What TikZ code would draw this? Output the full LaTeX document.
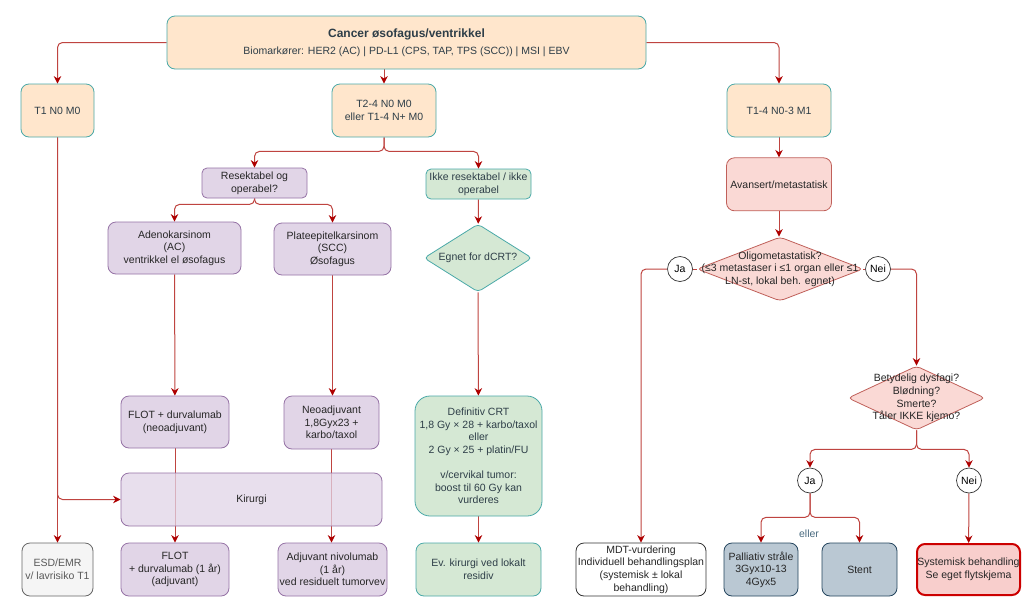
\documentclass[tikz,border=0pt]{standalone}
\usepackage{fontspec}
\setmainfont{Liberation Sans}
\usetikzlibrary{shapes,arrows.meta,positioning,backgrounds}

\definecolor{stagefill}{HTML}{FFE6CC}
\definecolor{tealline}{HTML}{4AA9A8}
\definecolor{purpfill}{HTML}{E1D5E7}
\definecolor{purpline}{HTML}{9673A6}
\definecolor{greenfill}{HTML}{D5E8D4}
\definecolor{redfill}{HTML}{FAD9D5}
\definecolor{redline}{HTML}{C0605A}
\definecolor{sysfill}{HTML}{F8CECC}
\definecolor{sysline}{HTML}{CC0000}
\definecolor{greyfill}{HTML}{F5F5F5}
\definecolor{greyline}{HTML}{666666}
\definecolor{bluefill}{HTML}{BAC8D3}
\definecolor{blueline}{HTML}{23445D}
\definecolor{arrowred}{HTML}{BF4440}
\definecolor{tipred}{HTML}{AE0000}
\definecolor{slatetext}{HTML}{2E3E48}
\definecolor{ellertext}{HTML}{4A6B80}

\begin{document}
\begin{tikzpicture}[
        x=1pt, y=-1pt,
        txt/.style={font=\fontsize{10.5}{12.6}\selectfont, align=center},
        box/.style={txt, draw, rectangle, rounded corners=8pt, line width=0.8pt, inner sep=2pt, minimum height=53pt, text=black!85},
        stage/.style={box, fill=stagefill, draw=tealline, text=slatetext},
        purp/.style={box, fill=purpfill, draw=purpline},
        grn/.style={box, fill=greenfill, draw=tealline, text=slatetext},
        rbox/.style={box, fill=redfill, draw=redline},
        palbox/.style={box, fill=bluefill, draw=blueline},
        dia/.style={draw, diamond, rounded corners=4pt, line width=0.8pt, inner sep=0pt},
        answer/.style={txt, draw=black!80, circle, fill=white, line width=0.7pt, minimum size=25pt, inner sep=0pt},
        arrow/.style={-{Stealth[length=7.5pt,width=7.5pt,color=tipred]}, draw=arrowred, line width=1pt, rounded corners=5pt},
        link/.style={draw=arrowred, line width=1pt}
    ]
        \useasboundingbox (0,0) rectangle (1023,611);

        % Diagnose
        \node[stage, minimum width=479pt] (top) at (406.5,42.5) {{\fontsize{12}{14}\selectfont\bfseries Cancer øsofagus/ventrikkel}\\[4pt]Biomarkører: HER2 (AC) | PD-L1 (CPS, TAP, TPS (SCC)) | MSI | EBV};

        % Stadier
        \node[stage, minimum width=73pt] (t1) at (57.5,110.5) {T1 N0 M0};
        \node[stage, minimum width=104pt] (t2) at (384,110.5) {T2-4 N0 M0\\eller T1-4 N+ M0};
        \node[stage, minimum width=104pt] (m1) at (779,110.5) {T1-4 N0-3 M1};

        % Lokalisert sykdom
        \node[purp, minimum width=105pt, minimum height=30pt, rounded corners=5pt] (res) at (254.5,183) {Resektabel og\\operabel?};
        \node[grn, minimum width=105pt, minimum height=30pt, rounded corners=5pt] (ikke) at (478.5,184) {Ikke resektabel / ikke\\operabel};
        \node[purp, minimum width=133pt, minimum height=52pt] (adeno) at (174.5,248) {Adenokarsinom\\(AC)\\ventrikkel el øsofagus};
        \node[purp, minimum width=117pt, minimum height=52pt] (plate) at (332.5,249) {Plateepitelkarsinom\\(SCC)\\Øsofagus};
        \node[dia, fill=greenfill, draw=tealline, minimum width=108pt, minimum height=68pt] (egnet) at (478,258) {};
        \node[txt, text=slatetext] (egnettxt) at (egnet) {Egnet for dCRT?};

        \node[purp, minimum width=108pt, minimum height=52pt] (flotneo) at (175,422) {FLOT + durvalumab\\(neoadjuvant)};
        \node[purp, minimum width=95pt] (neoadj) at (331.5,422.5) {Neoadjuvant\\1,8Gyx23 +\\karbo/taxol};
        \node[grn, minimum width=127pt, minimum height=120pt, rounded corners=15pt] (dcrt) at (478.5,456) {Definitiv CRT\\1,8 Gy × 28 + karbo/taxol\\eller\\2 Gy × 25 + platin/FU\\[12.6pt]v/cervikal tumor:\\boost til 60 Gy kan\\vurderes};
        \node[purp, minimum width=261pt, fill opacity=0.75, text opacity=1] (kir) at (251.5,499.5) {Kirurgi};

        \node[box, fill=greyfill, draw=greyline, text=black!65, minimum width=71pt] (esd) at (57.5,569.5) {ESD/EMR\\v/ lavrisiko T1};
        \node[purp, minimum width=108pt] (flotadj) at (175,569.5) {FLOT\\+ durvalumab (1 år)\\(adjuvant)};
        \node[purp, minimum width=109pt, inner sep=0pt] (nivo) at (332.5,569.5) {Adjuvant nivolumab\\(1 år)\\ved residuelt tumorvev};
        \node[grn, minimum width=125pt] (evkir) at (478.5,569.5) {Ev. kirurgi ved lokalt\\residiv};

        % Metastatisk sykdom
        \node[rbox, minimum width=105pt, below=20pt of m1] (avans) {Avansert/metastatisk};
        \node[dia, fill=redfill, draw=redline, minimum width=166pt, minimum height=64pt] (oligo) at (780,269) {};
        \node[txt, text=black!85] (oligotxt) at (oligo) {Oligometastatisk?\\(≤3 metastaser i ≤1 organ eller ≤1\\LN-st, lokal beh. egnet)};
        \node[answer] (ja1) at (680,269) {Ja};
        \node[answer] (nei1) at (878,269) {Nei};

        \node[dia, fill=redfill, draw=redline, minimum width=137pt, minimum height=64pt] (dys) at (916.5,398) {};
        \node[txt, text=black!85] (dystxt) at (dys) {Betydelig dysfagi?\\Blødning?\\Smerte?\\Tåler IKKE kjemo?};
        \node[answer] (ja2) at (810,480.5) {Ja};
        \node[answer] (nei2) at (969,480.5) {Nei};
        \node[txt, text=ellertext] (eller) at (809,534) {eller};

        \node[box, fill=white, draw=black!80, minimum width=130pt, inner sep=0pt] (mdt) at (641,569.5) {MDT-vurdering\\Individuell behandlingsplan\\(systemisk ± lokal\\behandling)};
        \node[palbox, minimum width=74pt] (pall) at (761,569.5) {Palliativ stråle\\3Gyx10-13\\4Gyx5};
        \node[palbox, minimum width=75pt] (stent) at (859.5,569.5) {Stent};
        \node[box, fill=sysfill, draw=sysline, line width=2pt, inner sep=0pt, minimum width=103pt, minimum height=51pt] (sys) at (968.5,569.5) {Systemisk behandling\\Se eget flytskjema};

        % Connections
        \begin{scope}[on background layer]
            \fill[white] (0,0) rectangle (1023,611);
            \draw[arrow] (top.west) -| (t1.north);
            \draw[arrow] (t2.north |- top.south) -- (t2.north);
            \draw[arrow] (top.east) -| (m1.north);

            \draw[arrow] (t1.south) -- (esd.north);
            \draw[arrow] (t1.south) |- (kir.west);

            \draw[arrow] (t2.south) -- ++(0,14) -| (res.north);
            \draw[arrow] (t2.south) -- ++(0,14) -| (ikke.north);
            \draw[arrow] (res.south) -- ++(0,6) -| (adeno.north);
            \draw[arrow] (res.south) -- ++(0,6) -| (plate.north);
            \draw[arrow] (ikke) -- (egnet);
            \draw[arrow] (adeno) -- (flotneo);
            \draw[arrow] (plate.south) -- (plate.south |- neoadj.north);
            \draw[arrow] (egnet) -- (dcrt);
            \draw[arrow] (flotneo) -- (flotadj);
            \draw[arrow] (neoadj.south) -- (neoadj.south |- nivo.north);
            \draw[arrow] (dcrt) -- (evkir);

            \draw[arrow] (m1) -- (avans);
            \draw[arrow] (avans.south) -- (avans.south |- oligo.north);
            \draw[link] (oligo.west) -- (ja1.east);
            \draw[arrow] (ja1.west) -| (mdt.north);
            \draw[link] (oligo.east) -- (nei1.west);
            \draw[arrow] (nei1.east) -| (dys.north);

            \draw[arrow] (dys.south) -- ++(0,19) -| (ja2.north);
            \draw[arrow] (dys.south) -- ++(0,19) -| (nei2.north);
            \draw[arrow] (ja2.south) -- ++(0,24) -| (pall.north);
            \draw[arrow] (ja2.south) -- ++(0,24) -| (stent.north);
            \draw[arrow] (nei2) -- (sys);
        \end{scope}

    \end{tikzpicture}
\end{document}
